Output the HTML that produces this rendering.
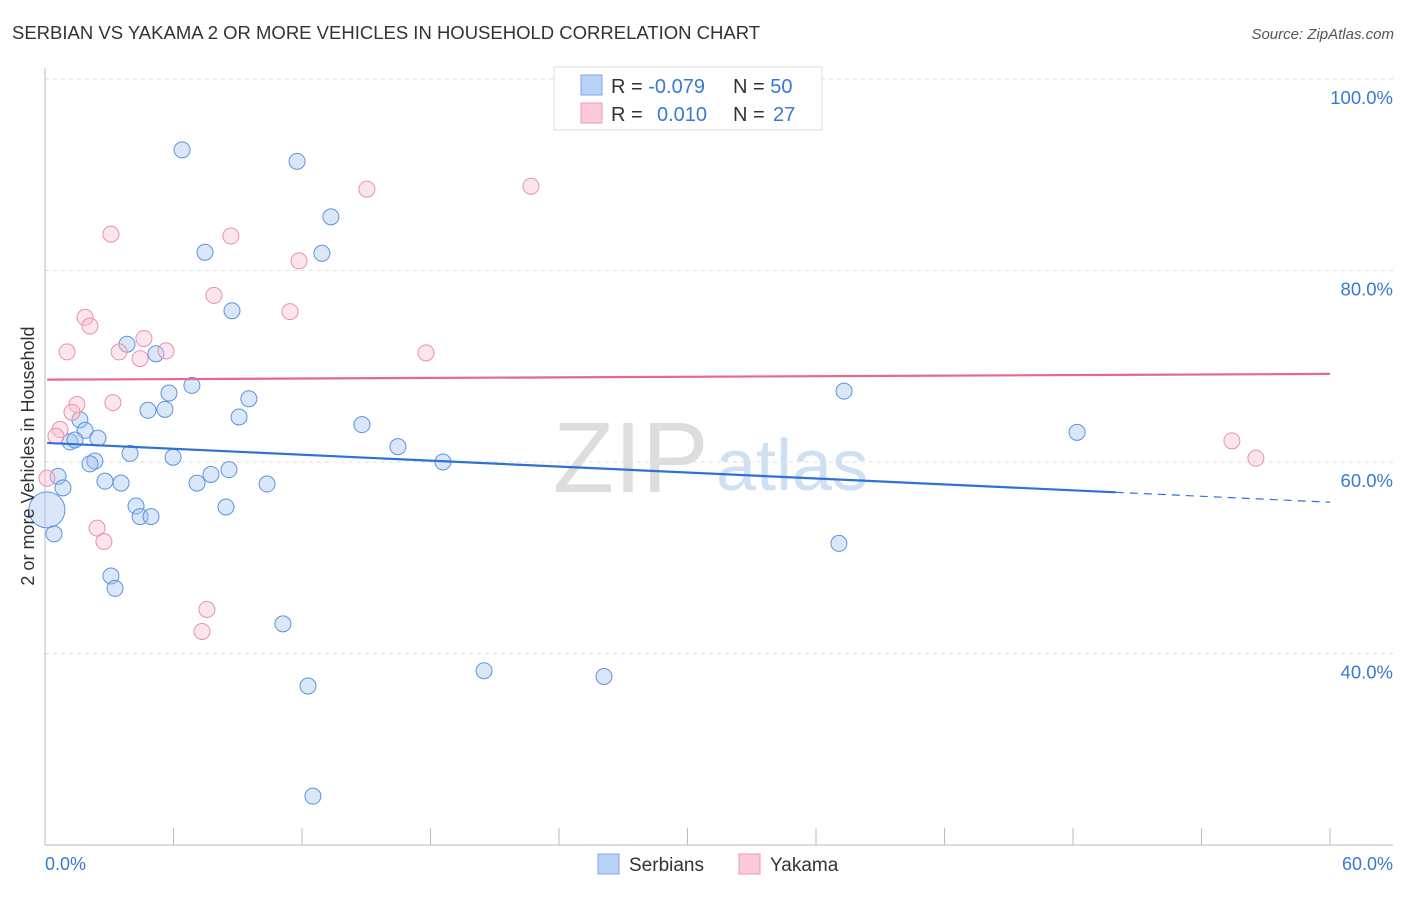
<!DOCTYPE html>
<html><head><meta charset="utf-8"><style>
body{margin:0;background:#fff;font-family:"Liberation Sans",sans-serif}
svg text{font-family:"Liberation Sans",sans-serif}
</style></head><body>
<svg id="chart" width="1406" height="892">
<text x="12" y="39" font-size="18.5" fill="#333">SERBIAN VS YAKAMA 2 OR MORE VEHICLES IN HOUSEHOLD CORRELATION CHART</text>
<text x="1394" y="39" font-size="15" fill="#555" font-style="italic" text-anchor="end">Source: ZipAtlas.com</text>
<text x="553" y="492" font-size="100" fill="#ddd" font-family="Liberation Serif">ZIP</text>
<text x="716" y="490" font-size="72" fill="#cfe0f3">atlas</text>
<g id="grid"></g><g id="marks"></g>
<text transform="translate(34,456) rotate(-90)" font-size="18" fill="#333" text-anchor="middle">2 or more Vehicles in Household</text>
<text x="45" y="870" font-size="18" fill="#3a78d4">0.0%</text>
<text x="1393" y="870" font-size="18" fill="#3a78d4" text-anchor="end">60.0%</text>
<g>
<rect x="554" y="67" width="268" height="63" fill="#fff" stroke="#ddd"/>
<rect x="581" y="75" width="21" height="20" fill="#b8d3f5" stroke="#7aaae8"/>
<rect x="581" y="103" width="21" height="20" fill="#fbc9d8" stroke="#ee9ab4"/>
<text x="611" y="93" font-size="20" fill="#333">R = <tspan fill="#3a78d4">-0.079</tspan><tspan x="733">N = </tspan><tspan fill="#3a78d4">50</tspan></text>
<text x="611" y="121" font-size="20" fill="#333">R = <tspan x="657" fill="#3a78d4">0.010</tspan><tspan x="733">N = </tspan><tspan x="773" fill="#3a78d4">27</tspan></text>
</g>
<g>
<rect x="598" y="854" width="21" height="20" fill="#b8d3f5" stroke="#7aaae8"/>
<text x="629" y="871" font-size="19" fill="#333">Serbians</text>
<rect x="739" y="854" width="21" height="20" fill="#fbc9d8" stroke="#ee9ab4"/>
<text x="770" y="871" font-size="19" fill="#333">Yakama</text>
</g>
</svg>
<script>
const yTicks=[100,80,60,40];
const yTickLabels=["100.0%","80.0%","60.0%","40.0%"];
const xTicks=[0,6,12,18,24,30,36,42,48,54,60];
const serbX=[6.40,11.77,13.35,7.47,12.93,8.73,3.83,5.18,6.86,5.79,9.52,4.81,5.60,9.06,14.80,1.63,1.87,2.47,1.17,1.40,16.48,3.97,5.98,2.33,2.10,18.58,8.59,7.75,0.61,2.80,3.55,7.10,10.37,0.84,4.25,8.45,4.44,4.95,0.09,0.42,3.08,3.27,11.11,12.28,20.50,26.10,12.51,37.31,48.19,37.07];
const serbY=[92.6,91.4,85.6,81.9,81.8,75.8,72.3,71.3,68.0,67.2,66.6,65.4,65.5,64.7,63.9,64.4,63.3,62.5,62.1,62.3,61.6,60.9,60.5,60.1,59.8,60.0,59.2,58.7,58.5,58.0,57.8,57.8,57.7,57.3,55.4,55.3,54.3,54.3,55.0,52.5,48.1,46.8,43.1,36.6,38.2,37.6,25.1,67.4,63.1,51.5];
const yakX=[22.69,15.03,3.08,8.68,11.86,7.89,11.44,1.87,2.10,4.62,1.03,3.46,5.65,4.44,17.79,3.17,1.49,1.26,0.70,0.51,0.09,2.43,2.75,7.56,7.33,55.42,56.54];
const yakY=[88.8,88.5,83.8,83.6,81.0,77.4,75.7,75.1,74.2,72.9,71.5,71.5,71.6,70.8,71.4,66.2,66.0,65.2,63.4,62.7,58.3,53.1,51.7,44.6,42.3,62.2,60.4];
const serbTrend=[62.0,55.8];
const yakTrend=[68.6,69.2];
const NS="http://www.w3.org/2000/svg";
const X=v=>45+v/60*1285, Y=v=>79+(100-v)*9.575;
const grid=document.getElementById('grid'), marks=document.getElementById('marks');
function mk(tag,at,par){const e=document.createElementNS(NS,tag);for(const k in at)e.setAttribute(k,at[k]);par.appendChild(e);return e;}
yTicks.forEach((t,i)=>{
 const l=mk('line',{x1:45,x2:1393,y1:Y(t),y2:Y(t),stroke:'#ddd','stroke-dasharray':'4,4'},grid);
 
 
 const tx=mk('text',{x:1393,y:Y(t)+25,'font-size':18.5,fill:'#3a78d4','text-anchor':'end'},grid);
 tx.textContent=yTickLabels[i];
 
 
});
const ax=mk('line',{x1:45,x2:1393,y1:845,y2:845,stroke:'#bbb'},grid);


const ay=mk('line',{x1:45,x2:45,y1:68,y2:845,stroke:'#bbb'},grid);


xTicks.forEach(t=>{const l=mk('line',{x1:X(t),x2:X(t),y1:828,y2:845,stroke:'#bbb'},grid);
 
 });
serbX.forEach((x,i)=>{const c=mk('circle',{cx:X(x),cy:Y(serbY[i]),r:i==38?18:8,fill:'rgba(160,195,240,0.4)',stroke:'#5d93dd','stroke-width':1},marks);
 
 });
yakX.forEach((x,i)=>{const c=mk('circle',{cx:X(x),cy:Y(yakY[i]),r:8,fill:'rgba(248,190,208,0.4)',stroke:'#e891ad','stroke-width':1},marks);
 
 });
const sy=x=>serbTrend[0]+(serbTrend[1]-serbTrend[0])*x/60;
const t1=mk('line',{x1:X(0.1),y1:Y(sy(0.1)),x2:X(50),y2:Y(sy(50)),stroke:'#2f72d6','stroke-width':2.2},marks);


const t2=mk('line',{x1:X(50),y1:Y(sy(50)),x2:X(60),y2:Y(sy(60)),stroke:'#2f72d6','stroke-width':1.2,'stroke-dasharray':'8,6'},marks);


const t3=mk('line',{x1:X(0.1),y1:Y(yakTrend[0]),x2:X(60),y2:Y(yakTrend[1]),stroke:'#e46890','stroke-width':2.2},marks);


</script>
</body></html>
